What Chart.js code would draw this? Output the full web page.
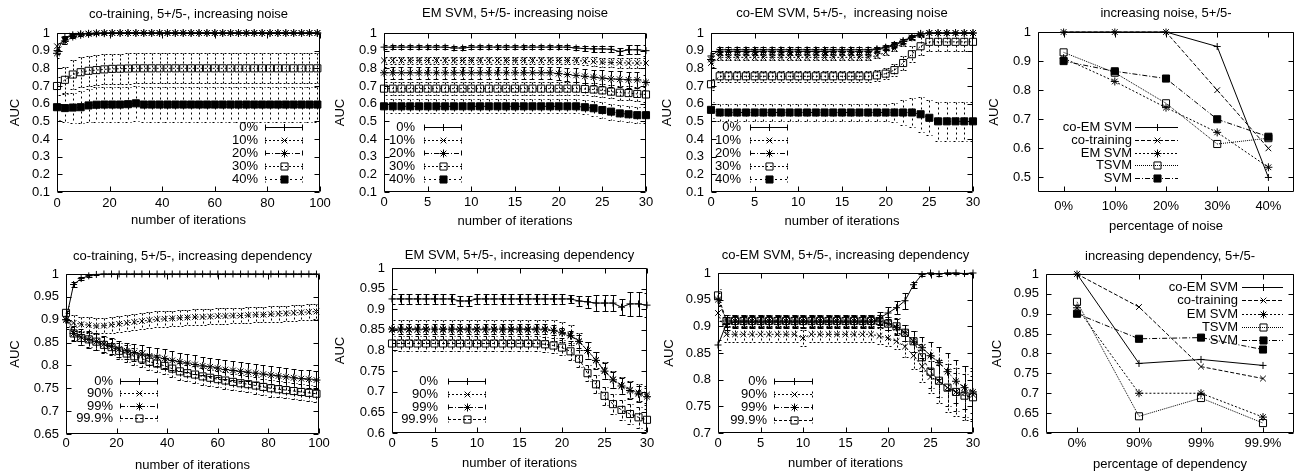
<!DOCTYPE html>
<html>
<head>
<meta charset="utf-8">
<script src="https://cdn.jsdelivr.net/npm/chart.js@4.4.1/dist/chart.umd.min.js"></script>
<style>
    html, body { margin: 0; padding: 0; background: #fff; }
    #page { position: relative; width: 1300px; height: 471px; overflow: hidden; background: #fff; }
    #page canvas { position: absolute; }
</style>
</head>
<body>
<div id="page"></div>
<script>
// ---- x values -------------------------------------------------------------
const ITER_100 = [0, 3, 6, 9, 12, 15, 18, 21, 24, 27, 30, 33, 36, 39, 42, 45, 48, 51, 54, 57,
    60, 63, 66, 69, 72, 75, 78, 81, 84, 87, 90, 93, 96, 99];
const ITER_30 = [0, 1, 2, 3, 4, 5, 6, 7, 8, 9, 10, 11, 12, 13, 14, 15, 16, 17, 18, 19, 20,
    21, 22, 23, 24, 25, 26, 27, 28, 29, 30];

const NOISE_LEVELS = ['0%', '10%', '20%', '30%', '40%'];
const DEP_LEVELS = ['0%', '90%', '99%', '99.9%'];
const METHODS = ['co-EM SVM', 'co-training', 'EM SVM', 'TSVM', 'SVM'];

// ---- co-training, increasing noise (every 3rd iteration) -------------------
const ctNoise0 = [0.9, 0.975, 0.99, 0.996, 0.998, 0.999, 1, 1, 1, 1, 1, 1, 1, 1, 1, 1, 1,
    1, 1, 1, 1, 1, 1, 1, 1, 1, 1, 1, 1, 1, 1, 1, 1, 1];
const ctNoise0Err = [0.02, 0.01, 0.006, 0.004, 0.002, 0.001, 0, 0, 0, 0, 0, 0, 0, 0, 0, 0, 0,
    0, 0, 0, 0, 0, 0, 0, 0, 0, 0, 0, 0, 0, 0, 0, 0, 0];
const ctNoise10 = [0.925, 0.965, 0.985, 0.993, 0.997, 0.999, 1, 1, 1, 1, 1, 1, 1, 1, 1, 1, 1,
    1, 1, 1, 1, 1, 1, 1, 1, 1, 1, 1, 1, 1, 1, 1, 1, 1];
const ctNoise10Err = [0.02, 0.012, 0.008, 0.005, 0.003, 0.002, 0, 0, 0, 0, 0, 0, 0, 0, 0, 0, 0,
    0, 0, 0, 0, 0, 0, 0, 0, 0, 0, 0, 0, 0, 0, 0, 0, 0];
const ctNoise20 = [0.885, 0.955, 0.98, 0.99, 0.995, 0.998, 0.999, 1, 1, 1, 1, 1, 1, 1, 1, 1, 1,
    1, 1, 1, 1, 1, 1, 1, 1, 1, 1, 1, 1, 1, 1, 1, 1, 1];
const ctNoise20Err = [0.025, 0.015, 0.01, 0.006, 0.004, 0.003, 0.002, 0, 0, 0, 0, 0, 0, 0, 0, 0, 0,
    0, 0, 0, 0, 0, 0, 0, 0, 0, 0, 0, 0, 0, 0, 0, 0, 0];
const ctNoise30 = [0.7, 0.735, 0.765, 0.778, 0.786, 0.79, 0.794, 0.797, 0.798, 0.799, 0.8, 0.8,
    0.8, 0.8, 0.8, 0.8, 0.8, 0.8, 0.8, 0.8, 0.8, 0.8, 0.8, 0.8, 0.8, 0.8, 0.8, 0.8, 0.8, 0.8,
    0.8, 0.8, 0.8, 0.8];
const ctNoise30Err = [0.05, 0.075, 0.08, 0.085, 0.085, 0.085, 0.085, 0.085, 0.085, 0.085, 0.085,
    0.085, 0.085, 0.085, 0.085, 0.085, 0.085, 0.085, 0.085, 0.085, 0.085, 0.085, 0.085, 0.085,
    0.085, 0.085, 0.085, 0.085, 0.085, 0.085, 0.085, 0.085, 0.085, 0.085];
const ctNoise40 = [0.58, 0.575, 0.578, 0.58, 0.59, 0.594, 0.595, 0.595, 0.595, 0.597, 0.602,
    0.595, 0.595, 0.595, 0.595, 0.595, 0.595, 0.595, 0.595, 0.595, 0.595, 0.595, 0.595, 0.595,
    0.595, 0.595, 0.595, 0.595, 0.595, 0.595, 0.595, 0.595, 0.595, 0.595];
const ctNoise40Err = [0.07, 0.08, 0.085, 0.09, 0.095, 0.1, 0.1, 0.1, 0.1, 0.1, 0.1, 0.1, 0.1,
    0.1, 0.1, 0.1, 0.1, 0.1, 0.1, 0.1, 0.1, 0.1, 0.1, 0.1, 0.1, 0.1, 0.1, 0.1, 0.1, 0.1, 0.1,
    0.1, 0.1, 0.1];

// ---- EM SVM, increasing noise ----------------------------------------------
const emNoise0 = [0.92, 0.92, 0.92, 0.92, 0.92, 0.92, 0.92, 0.92, 0.915, 0.915, 0.92, 0.92,
    0.92, 0.92, 0.92, 0.92, 0.92, 0.92, 0.92, 0.92, 0.92, 0.92, 0.915, 0.912, 0.91, 0.91, 0.908,
    0.895, 0.905, 0.905, 0.9];
const emNoise0Err = [0.012, 0.012, 0.012, 0.012, 0.012, 0.012, 0.012, 0.012, 0.012, 0.012, 0.012,
    0.012, 0.012, 0.012, 0.012, 0.012, 0.012, 0.012, 0.012, 0.012, 0.012, 0.012, 0.012, 0.013,
    0.015, 0.015, 0.017, 0.02, 0.025, 0.025, 0.03];
const emNoise10 = [0.845, 0.845, 0.845, 0.845, 0.845, 0.845, 0.845, 0.845, 0.845, 0.845, 0.845,
    0.845, 0.845, 0.845, 0.845, 0.845, 0.845, 0.845, 0.845, 0.845, 0.845, 0.845, 0.845, 0.84,
    0.838, 0.835, 0.833, 0.832, 0.83, 0.83, 0.83];
const emNoise10Err = [0.02, 0.02, 0.02, 0.02, 0.02, 0.02, 0.02, 0.02, 0.02, 0.02, 0.02, 0.02,
    0.02, 0.02, 0.02, 0.02, 0.02, 0.02, 0.02, 0.02, 0.02, 0.02, 0.02, 0.022, 0.024, 0.025, 0.027,
    0.028, 0.03, 0.03, 0.03];
const emNoise20 = [0.775, 0.775, 0.775, 0.775, 0.775, 0.775, 0.775, 0.775, 0.775, 0.775, 0.775,
    0.775, 0.775, 0.775, 0.775, 0.775, 0.775, 0.775, 0.775, 0.775, 0.77, 0.765, 0.76, 0.755,
    0.75, 0.745, 0.74, 0.738, 0.735, 0.735, 0.72];
const emNoise20Err = [0.035, 0.035, 0.035, 0.035, 0.035, 0.035, 0.035, 0.035, 0.035, 0.035, 0.035,
    0.035, 0.035, 0.035, 0.035, 0.035, 0.035, 0.035, 0.035, 0.035, 0.036, 0.038, 0.04, 0.04,
    0.042, 0.044, 0.045, 0.045, 0.045, 0.045, 0.045];
const emNoise30 = [0.685, 0.685, 0.685, 0.685, 0.685, 0.685, 0.685, 0.685, 0.685, 0.685, 0.685,
    0.685, 0.685, 0.685, 0.685, 0.685, 0.685, 0.685, 0.685, 0.685, 0.685, 0.685, 0.685, 0.683,
    0.68, 0.675, 0.668, 0.662, 0.66, 0.655, 0.652];
const emNoise30Err = [0.035, 0.035, 0.035, 0.035, 0.035, 0.035, 0.035, 0.035, 0.035, 0.035, 0.035,
    0.035, 0.035, 0.035, 0.035, 0.035, 0.035, 0.035, 0.035, 0.035, 0.035, 0.035, 0.035, 0.035,
    0.036, 0.037, 0.038, 0.04, 0.04, 0.04, 0.04];
const emNoise40 = [0.585, 0.585, 0.585, 0.585, 0.585, 0.585, 0.585, 0.585, 0.585, 0.585, 0.585,
    0.585, 0.585, 0.585, 0.585, 0.585, 0.585, 0.585, 0.585, 0.585, 0.585, 0.585, 0.585, 0.58,
    0.574, 0.564, 0.555, 0.545, 0.54, 0.535, 0.535];
const emNoise40Err = [0.04, 0.04, 0.04, 0.04, 0.04, 0.04, 0.04, 0.04, 0.04, 0.04, 0.04, 0.04,
    0.04, 0.04, 0.04, 0.04, 0.04, 0.04, 0.04, 0.04, 0.04, 0.04, 0.04, 0.04, 0.042, 0.045, 0.045,
    0.045, 0.045, 0.045, 0.045];

// ---- co-EM SVM, increasing noise -------------------------------------------
const coemNoise0 = [0.87, 0.905, 0.905, 0.905, 0.905, 0.905, 0.905, 0.905, 0.905, 0.905, 0.905,
    0.905, 0.905, 0.905, 0.905, 0.905, 0.905, 0.905, 0.905, 0.91, 0.92, 0.935, 0.955, 0.978,
    0.995, 1, 1, 1, 1, 1, 1];
const coemNoise0Err = [0.015, 0.013, 0.013, 0.013, 0.013, 0.013, 0.013, 0.013, 0.013, 0.013,
    0.013, 0.013, 0.013, 0.013, 0.013, 0.013, 0.013, 0.013, 0.013, 0.012, 0.012, 0.012, 0.012,
    0.01, 0.004, 0.002, 0.002, 0.002, 0.002, 0.002, 0.002];
const coemNoise10 = [0.83, 0.862, 0.862, 0.862, 0.862, 0.862, 0.862, 0.862, 0.862, 0.862, 0.862,
    0.862, 0.862, 0.862, 0.862, 0.862, 0.862, 0.862, 0.862, 0.872, 0.89, 0.912, 0.94, 0.97,
    0.99, 1, 1, 1, 1, 1, 1];
const coemNoise10Err = [0.02, 0.015, 0.015, 0.015, 0.015, 0.015, 0.015, 0.015, 0.015, 0.015,
    0.015, 0.015, 0.015, 0.015, 0.015, 0.015, 0.015, 0.015, 0.015, 0.015, 0.015, 0.015, 0.015,
    0.012, 0.008, 0.002, 0.002, 0.002, 0.002, 0.002, 0.002];
const coemNoise20 = [0.85, 0.895, 0.895, 0.895, 0.895, 0.895, 0.895, 0.895, 0.895, 0.895, 0.895,
    0.895, 0.895, 0.895, 0.895, 0.895, 0.895, 0.895, 0.895, 0.905, 0.915, 0.93, 0.952, 0.975,
    0.995, 1, 1, 1, 1, 1, 1];
const coemNoise20Err = [0.02, 0.013, 0.013, 0.013, 0.013, 0.013, 0.013, 0.013, 0.013, 0.013,
    0.013, 0.013, 0.013, 0.013, 0.013, 0.013, 0.013, 0.013, 0.013, 0.013, 0.013, 0.013, 0.012,
    0.01, 0.004, 0.002, 0.002, 0.002, 0.002, 0.002, 0.002];
const coemNoise30 = [0.71, 0.755, 0.755, 0.755, 0.755, 0.755, 0.755, 0.755, 0.755, 0.755, 0.755,
    0.755, 0.755, 0.755, 0.755, 0.755, 0.755, 0.755, 0.755, 0.76, 0.77, 0.79, 0.83, 0.88, 0.925,
    0.95, 0.95, 0.95, 0.95, 0.95, 0.95];
const coemNoise30Err = [0.03, 0.03, 0.03, 0.03, 0.03, 0.03, 0.03, 0.03, 0.03, 0.03, 0.03, 0.03,
    0.03, 0.03, 0.03, 0.03, 0.03, 0.03, 0.03, 0.03, 0.03, 0.035, 0.04, 0.045, 0.05, 0.05, 0.05,
    0.05, 0.05, 0.05, 0.05];
const coemNoise40 = [0.565, 0.55, 0.55, 0.55, 0.55, 0.55, 0.55, 0.55, 0.55, 0.55, 0.55, 0.55,
    0.55, 0.55, 0.55, 0.55, 0.55, 0.55, 0.55, 0.55, 0.55, 0.55, 0.55, 0.55, 0.54, 0.52, 0.5, 0.5,
    0.5, 0.5, 0.5];
const coemNoise40Err = [0.045, 0.05, 0.05, 0.05, 0.05, 0.05, 0.05, 0.05, 0.05, 0.05, 0.05, 0.05,
    0.05, 0.05, 0.05, 0.05, 0.05, 0.05, 0.05, 0.05, 0.05, 0.055, 0.07, 0.08, 0.1, 0.1, 0.11, 0.11,
    0.11, 0.11, 0.11];

// ---- final AUC vs. noise ---------------------------------------------------
const sumNoiseCoem = [1, 1, 1, 0.95, 0.5];
const sumNoiseCoTrain = [1, 1, 1, 0.8, 0.6];
const sumNoiseEm = [0.91, 0.83, 0.74, 0.655, 0.535];
const sumNoiseTsvm = [0.93, 0.86, 0.755, 0.615, 0.635];
const sumNoiseSvm = [0.9, 0.865, 0.84, 0.7, 0.64];

// ---- co-training, increasing dependency (every 3rd iteration) --------------
const ctDep0 = [0.9, 0.977, 0.99, 0.996, 0.999, 1, 1, 1, 1, 1, 1, 1, 1, 1, 1, 1, 1, 1, 1, 1,
    1, 1, 1, 1, 1, 1, 1, 1, 1, 1, 1, 1, 1, 1];
const ctDep0Err = [0.02, 0.006, 0.004, 0.002, 0.001, 0, 0, 0, 0, 0, 0, 0, 0, 0, 0, 0, 0, 0, 0,
    0, 0, 0, 0, 0, 0, 0, 0, 0, 0, 0, 0, 0, 0, 0];
const ctDep90 = [0.9, 0.893, 0.89, 0.888, 0.886, 0.887, 0.889, 0.891, 0.893, 0.895,
    0.897, 0.899, 0.901, 0.902, 0.903, 0.904, 0.905, 0.906, 0.906, 0.907,
    0.908, 0.908, 0.909, 0.909, 0.91, 0.911, 0.911, 0.912, 0.913, 0.914,
    0.915, 0.916, 0.917, 0.918];
const ctDep90Err = [0.015, 0.017, 0.017, 0.017, 0.017, 0.017, 0.017, 0.017, 0.017, 0.017,
    0.017, 0.017, 0.017, 0.017, 0.017, 0.017, 0.017, 0.017, 0.017, 0.017,
    0.017, 0.017, 0.017, 0.017, 0.017, 0.017, 0.017, 0.017, 0.017, 0.017,
    0.017, 0.017, 0.017, 0.017];
const ctDep99 = [0.9, 0.87, 0.862, 0.857, 0.852, 0.847, 0.842, 0.836, 0.832, 0.828,
    0.825, 0.821, 0.818, 0.815, 0.811, 0.808, 0.805, 0.802, 0.799, 0.797,
    0.794, 0.791, 0.789, 0.787, 0.785, 0.783, 0.781, 0.779, 0.777, 0.775,
    0.773, 0.771, 0.77, 0.768];
const ctDep99Err = [0.015, 0.016, 0.017, 0.018, 0.018, 0.018, 0.018, 0.018, 0.018, 0.018,
    0.02, 0.02, 0.02, 0.02, 0.02, 0.02, 0.02, 0.02, 0.02, 0.02,
    0.02, 0.02, 0.02, 0.02, 0.02, 0.02, 0.02, 0.02, 0.02, 0.02,
    0.02, 0.02, 0.02, 0.02];
const ctDep999 = [0.915, 0.87, 0.86, 0.857, 0.852, 0.845, 0.84, 0.832, 0.826, 0.82,
    0.815, 0.808, 0.804, 0.799, 0.793, 0.787, 0.783, 0.78, 0.776, 0.773,
    0.77, 0.767, 0.764, 0.761, 0.759, 0.756, 0.753, 0.75, 0.748, 0.746,
    0.744, 0.742, 0.74, 0.738];
const ctDep999Err = [0.015, 0.015, 0.016, 0.017, 0.018, 0.018, 0.018, 0.018, 0.018, 0.018,
    0.018, 0.018, 0.018, 0.018, 0.018, 0.018, 0.018, 0.018, 0.018, 0.018,
    0.018, 0.018, 0.018, 0.018, 0.018, 0.018, 0.018, 0.018, 0.018, 0.018,
    0.018, 0.018, 0.018, 0.018];

// ---- EM SVM, increasing dependency -----------------------------------------
const emDep0 = [0.925, 0.925, 0.925, 0.925, 0.925, 0.925, 0.925, 0.925, 0.92, 0.92, 0.925,
    0.925, 0.925, 0.925, 0.925, 0.925, 0.925, 0.925, 0.925, 0.925, 0.925, 0.925, 0.92, 0.918,
    0.915, 0.915, 0.915, 0.905, 0.913, 0.913, 0.91];
const emDep0Err = [0.012, 0.012, 0.012, 0.012, 0.012, 0.012, 0.012, 0.012, 0.012, 0.012, 0.012,
    0.012, 0.012, 0.012, 0.012, 0.012, 0.012, 0.012, 0.012, 0.012, 0.012, 0.01, 0.012, 0.015,
    0.02, 0.02, 0.02, 0.02, 0.03, 0.03, 0.03];
const emDep90 = [0.85, 0.85, 0.85, 0.85, 0.85, 0.85, 0.85, 0.85, 0.85, 0.85, 0.85, 0.85, 0.85,
    0.85, 0.85, 0.85, 0.85, 0.85, 0.85, 0.848, 0.845, 0.838, 0.822, 0.8, 0.777, 0.752, 0.73,
    0.715, 0.705, 0.698, 0.693];
const emDep90Err = [0.025, 0.025, 0.025, 0.025, 0.025, 0.025, 0.025, 0.025, 0.025, 0.025, 0.025,
    0.025, 0.025, 0.025, 0.025, 0.025, 0.025, 0.025, 0.025, 0.025, 0.025, 0.025, 0.02, 0.02,
    0.02, 0.02, 0.02, 0.02, 0.02, 0.02, 0.02];
const emDep99 = [0.852, 0.852, 0.852, 0.852, 0.852, 0.852, 0.852, 0.852, 0.852, 0.852, 0.852,
    0.852, 0.852, 0.852, 0.852, 0.852, 0.852, 0.852, 0.852, 0.849, 0.843, 0.836, 0.822, 0.8,
    0.776, 0.75, 0.729, 0.714, 0.703, 0.695, 0.688];
const emDep99Err = [0.012, 0.012, 0.012, 0.012, 0.012, 0.012, 0.012, 0.012, 0.012, 0.012, 0.012,
    0.012, 0.012, 0.012, 0.012, 0.012, 0.012, 0.012, 0.012, 0.012, 0.012, 0.012, 0.015, 0.02,
    0.02, 0.02, 0.02, 0.02, 0.02, 0.02, 0.02];
const emDep999 = [0.817, 0.817, 0.817, 0.817, 0.817, 0.817, 0.817, 0.817, 0.817, 0.817, 0.817,
    0.817, 0.817, 0.817, 0.817, 0.817, 0.817, 0.817, 0.815, 0.812, 0.807, 0.798, 0.78, 0.745,
    0.718, 0.69, 0.67, 0.656, 0.646, 0.638, 0.632];
const emDep999Err = [0.018, 0.018, 0.018, 0.018, 0.018, 0.018, 0.018, 0.018, 0.018, 0.018, 0.018,
    0.018, 0.018, 0.018, 0.018, 0.018, 0.018, 0.018, 0.018, 0.018, 0.018, 0.02, 0.02, 0.02,
    0.022, 0.022, 0.025, 0.025, 0.025, 0.025, 0.025];

// ---- co-EM SVM, increasing dependency --------------------------------------
const coemDep0 = [0.865, 0.905, 0.908, 0.908, 0.908, 0.908, 0.908, 0.908, 0.908, 0.908, 0.908,
    0.908, 0.908, 0.908, 0.908, 0.908, 0.908, 0.908, 0.908, 0.915, 0.925, 0.935, 0.948, 0.978,
    0.997, 1, 0.998, 1, 1, 0.999, 1];
const coemDep0Err = [0.01, 0.012, 0.012, 0.012, 0.012, 0.012, 0.012, 0.012, 0.012, 0.012, 0.012,
    0.012, 0.012, 0.012, 0.012, 0.012, 0.012, 0.012, 0.012, 0.012, 0.012, 0.012, 0.015, 0.006,
    0.003, 0.002, 0.003, 0.001, 0.001, 0.001, 0.001];
const coemDep90 = [0.925, 0.885, 0.885, 0.885, 0.885, 0.885, 0.885, 0.885, 0.885, 0.885, 0.878,
    0.885, 0.885, 0.885, 0.885, 0.885, 0.885, 0.885, 0.885, 0.882, 0.878, 0.872, 0.862, 0.845,
    0.825, 0.805, 0.797, 0.785, 0.777, 0.775, 0.772];
const coemDep90Err = [0.015, 0.015, 0.015, 0.015, 0.015, 0.015, 0.015, 0.015, 0.015, 0.015,
    0.015, 0.015, 0.015, 0.015, 0.015, 0.015, 0.015, 0.015, 0.015, 0.015, 0.015, 0.015, 0.02,
    0.025, 0.03, 0.03, 0.04, 0.045, 0.045, 0.05, 0.05];
const coemDep99 = [0.95, 0.91, 0.91, 0.91, 0.91, 0.91, 0.91, 0.91, 0.91, 0.91, 0.91, 0.91,
    0.91, 0.91, 0.91, 0.91, 0.91, 0.91, 0.91, 0.91, 0.905, 0.898, 0.888, 0.872, 0.86, 0.845,
    0.832, 0.815, 0.797, 0.785, 0.777];
const coemDep99Err = [0.012, 0.012, 0.012, 0.012, 0.012, 0.012, 0.012, 0.012, 0.012, 0.012,
    0.012, 0.012, 0.012, 0.012, 0.012, 0.012, 0.012, 0.012, 0.012, 0.012, 0.012, 0.015, 0.015,
    0.02, 0.02, 0.025, 0.03, 0.035, 0.04, 0.04, 0.04];
const coemDep999 = [0.958, 0.91, 0.91, 0.91, 0.91, 0.91, 0.91, 0.91, 0.91, 0.91, 0.91, 0.91,
    0.91, 0.91, 0.91, 0.91, 0.91, 0.91, 0.91, 0.91, 0.905, 0.9, 0.888, 0.872, 0.842, 0.815,
    0.798, 0.785, 0.777, 0.77, 0.767];
const coemDep999Err = [0.012, 0.012, 0.012, 0.012, 0.012, 0.012, 0.012, 0.012, 0.012, 0.012,
    0.012, 0.012, 0.012, 0.012, 0.012, 0.012, 0.012, 0.012, 0.012, 0.012, 0.012, 0.015, 0.015,
    0.02, 0.025, 0.03, 0.03, 0.035, 0.035, 0.04, 0.04];

// ---- final AUC vs. dependency ----------------------------------------------
const sumDepCoem = [1, 0.775, 0.785, 0.77];
const sumDepCoTrain = [1, 0.917, 0.767, 0.737];
const sumDepEm = [0.915, 0.7, 0.7, 0.64];
const sumDepTsvm = [0.93, 0.642, 0.688, 0.625];
const sumDepSvm = [0.9, 0.837, 0.84, 0.81];

// ---- styles (gnuplot line types 1..5) --------------------------------------
const HOLLOW = 'rgba(0,0,0,0)';
const MARKS = [
    { pointStyle: 'cross', radius: 3.5, fill: HOLLOW },
    { pointStyle: 'crossRot', radius: 4, fill: HOLLOW },
    { pointStyle: 'star', radius: 4, fill: HOLLOW },
    { pointStyle: 'rect', radius: 5, fill: HOLLOW },
    { pointStyle: 'rect', radius: 5, fill: '#000' },
];
const DASH_ITER = [[], [2, 2], [5, 2, 1, 2], [2, 2], [2, 3]];
const DASH_DEP = [[], [2, 2], [5, 2, 1, 2], [3, 2]];
const DASH_SUM = [[], [4, 2], [2, 2], [1, 1], [5, 2, 1, 2]];

const FONT_PX = 13;
const HALF_LINE = FONT_PX * 1.2 / 2;
const FONT_FAMILY = '"Liberation Sans", Arial, sans-serif';

Chart.defaults.font.family = FONT_FAMILY;
Chart.defaults.font.size = FONT_PX;
Chart.defaults.color = '#000';

function series(labels, values, errors, dashes) {
    return labels.map((label, i) => ({ label, values: values[i], errors: errors ? errors[i] : null, mark: MARKS[i], dash: dashes[i] }));
}

const PANELS = [
    {
        title: 'co-training, 5+/5-, increasing noise',
        box: [0, 0, 345, 235], plot: [57, 33, 320, 192],
        titleY: 14, tickY: 203.5, xTitleY: 220, yTitleX: 15,
        x: { min: 0, max: 100, step: 20 }, y: { min: 0.1, max: 1, step: 0.1 },
        xTitle: 'number of iterations', xs: ITER_100,
        series: series(NOISE_LEVELS,
            [ctNoise0, ctNoise10, ctNoise20, ctNoise30, ctNoise40],
            [ctNoise0Err, ctNoise10Err, ctNoise20Err, ctNoise30Err, ctNoise40Err], DASH_ITER),
        key: { right: 258, x0: 265, x1: 303, y0: 127, dy: 13, bars: true },
    },
    {
        title: 'EM SVM, 5+/5- increasing noise',
        box: [325, 0, 345, 235], plot: [59, 33, 321, 192],
        titleY: 13.5, tickY: 202, xTitleY: 221.5, yTitleX: 15,
        x: { min: 0, max: 30, step: 5 }, y: { min: 0.1, max: 1, step: 0.1 },
        xTitle: 'number of iterations', xs: ITER_30,
        series: series(NOISE_LEVELS,
            [emNoise0, emNoise10, emNoise20, emNoise30, emNoise40],
            [emNoise0Err, emNoise10Err, emNoise20Err, emNoise30Err, emNoise40Err], DASH_ITER),
        key: { right: 90, x0: 99, x1: 137, y0: 127, dy: 13, bars: true },
    },
    {
        title: 'co-EM SVM, 5+/5-,  increasing noise',
        box: [650, 0, 345, 235], plot: [61, 33, 323, 192],
        titleY: 13.5, tickY: 202, xTitleY: 221.5, yTitleX: 17,
        x: { min: 0, max: 30, step: 5 }, y: { min: 0.1, max: 1, step: 0.1 },
        xTitle: 'number of iterations', xs: ITER_30,
        series: series(NOISE_LEVELS,
            [coemNoise0, coemNoise10, coemNoise20, coemNoise30, coemNoise40],
            [coemNoise0Err, coemNoise10Err, coemNoise20Err, coemNoise30Err, coemNoise40Err], DASH_ITER),
        key: { right: 91, x0: 100, x1: 138, y0: 127, dy: 13, bars: true },
    },
    {
        title: 'increasing noise, 5+/5-',
        box: [975, 0, 325, 235], plot: [63, 32, 324, 192],
        titleY: 13.5, tickY: 206.5, xTitleY: 226.5, yTitleX: 19,
        y: { min: 0.45, max: 1, step: 0.1 },
        xTitle: 'percentage of noise', categories: NOISE_LEVELS,
        series: series(METHODS,
            [sumNoiseCoem, sumNoiseCoTrain, sumNoiseEm, sumNoiseTsvm, sumNoiseSvm], null, DASH_SUM),
        key: { right: 157, x0: 160, x1: 203, y0: 127, dy: 12.8, bars: false },
    },
    {
        title: 'co-training, 5+/5-, increasing dependency',
        box: [0, 235, 345, 236], plot: [66, 39, 319, 199],
        titleY: 21.5, tickY: 208.5, xTitleY: 230, yTitleX: 15,
        x: { min: 0, max: 100, step: 20 }, y: { min: 0.65, max: 1, step: 0.05 },
        xTitle: 'number of iterations', xs: ITER_100,
        series: series(DEP_LEVELS,
            [ctDep0, ctDep90, ctDep99, ctDep999],
            [ctDep0Err, ctDep90Err, ctDep99Err, ctDep999Err], DASH_DEP),
        key: { right: 113, x0: 120, x1: 158, y0: 146, dy: 12.4, bars: true },
    },
    {
        title: 'EM SVM, 5+/5-, increasing dependency',
        box: [325, 235, 345, 236], plot: [67, 33, 322, 198],
        titleY: 20.5, tickY: 208, xTitleY: 228.5, yTitleX: 15,
        x: { min: 0, max: 30, step: 5 }, y: { min: 0.6, max: 1, step: 0.05 },
        xTitle: 'number of iterations', xs: ITER_30,
        series: series(DEP_LEVELS,
            [emDep0, emDep90, emDep99, emDep999],
            [emDep0Err, emDep90Err, emDep99Err, emDep999Err], DASH_DEP),
        key: { right: 113, x0: 123, x1: 161, y0: 146, dy: 12.8, bars: true },
    },
    {
        title: 'co-EM SVM, 5+/5-, increasing dependency',
        box: [650, 235, 345, 236], plot: [68, 38, 323, 198],
        titleY: 20.5, tickY: 208, xTitleY: 228.5, yTitleX: 19,
        x: { min: 0, max: 30, step: 5 }, y: { min: 0.7, max: 1, step: 0.05 },
        xTitle: 'number of iterations', xs: ITER_30,
        series: series(DEP_LEVELS,
            [coemDep0, coemDep90, coemDep99, coemDep999],
            [coemDep0Err, coemDep90Err, coemDep99Err, coemDep999Err], DASH_DEP),
        key: { right: 117, x0: 124, x1: 163, y0: 146, dy: 13, bars: true },
    },
    {
        title: 'increasing dependency, 5+/5-',
        box: [975, 235, 325, 236], plot: [71, 39, 324, 198],
        titleY: 21.5, tickY: 208, xTitleY: 229, yTitleX: 22.5,
        y: { min: 0.6, max: 1, step: 0.05 },
        xTitle: 'percentage of dependency', categories: DEP_LEVELS,
        series: series(METHODS,
            [sumDepCoem, sumDepCoTrain, sumDepEm, sumDepTsvm, sumDepSvm], null, DASH_SUM),
        key: { right: 263, x0: 267, x1: 308, y0: 52, dy: 13.3, bars: false },
    },
];

// gnuplot look: closed frame with inward mirrored ticks, error bars and an inline key
const gnuplotLook = {
    id: 'gnuplotLook',
    beforeDatasetDraw(chart, args) {
        const ds = chart.data.datasets[args.index];
        if (!ds.errors) return;
        const { ctx, chartArea: a } = chart;
        const yScale = chart.scales.y;
        ctx.save();
        ctx.beginPath();
        ctx.rect(a.left, a.top, a.right - a.left, a.bottom - a.top);
        ctx.clip();
        ctx.strokeStyle = '#000';
        ctx.lineWidth = 1;
        ctx.setLineDash(ds.borderDash);
        ctx.beginPath();
        args.meta.data.forEach((pt, i) => {
            const e = ds.errors[i];
            if (!e) return;
            const v = ds.data[i].y;
            const hi = Math.round(yScale.getPixelForValue(v + e)) + 0.5;
            const lo = Math.round(yScale.getPixelForValue(v - e)) + 0.5;
            const x = Math.round(pt.x) + 0.5;
            ctx.moveTo(x, hi); ctx.lineTo(x, lo);
            ctx.moveTo(x - 3, hi); ctx.lineTo(x + 3, hi);
            ctx.moveTo(x - 3, lo); ctx.lineTo(x + 3, lo);
        });
        ctx.stroke();
        ctx.restore();
    },
    afterDraw(chart, args, opts) {
        const { ctx, chartArea: a, scales: { x, y } } = chart;
        const l = Math.round(a.left) + 0.5, r = Math.round(a.right) - 0.5;
        const t = Math.round(a.top) + 0.5, b = Math.round(a.bottom) - 0.5;
        ctx.save();
        ctx.strokeStyle = '#000';
        ctx.lineWidth = 1;
        ctx.setLineDash([]);
        ctx.beginPath();
        ctx.rect(l, t, r - l, b - t);
        x.ticks.forEach((tk, i) => {
            const px = Math.round(x.getPixelForTick(i)) + 0.5;
            ctx.moveTo(px, b); ctx.lineTo(px, b - 5);
            ctx.moveTo(px, t); ctx.lineTo(px, t + 5);
        });
        y.ticks.forEach((tk, i) => {
            const py = Math.round(y.getPixelForTick(i)) + 0.5;
            ctx.moveTo(l, py); ctx.lineTo(l + 5, py);
            ctx.moveTo(r, py); ctx.lineTo(r - 5, py);
        });
        ctx.stroke();

        // key: label right-aligned, then a sample line with the marker in its middle
        const key = opts.key;
        if (key) {
            ctx.font = FONT_PX + 'px ' + FONT_FAMILY;
            ctx.textAlign = 'right';
            ctx.textBaseline = 'middle';
            chart.data.datasets.forEach((ds, i) => {
                const yy = Math.round(key.y0 + i * key.dy) + 0.5;
                ctx.fillStyle = '#000';
                ctx.fillText(ds.label, key.right, yy);
                ctx.setLineDash(ds.borderDash);
                ctx.beginPath();
                ctx.moveTo(key.x0, yy); ctx.lineTo(key.x1, yy);
                if (key.bars) {
                    ctx.moveTo(key.x0 + 0.5, yy - 3); ctx.lineTo(key.x0 + 0.5, yy + 3);
                    ctx.moveTo(key.x1 - 0.5, yy - 3); ctx.lineTo(key.x1 - 0.5, yy + 3);
                }
                ctx.stroke();
                ctx.setLineDash([]);
                ctx.fillStyle = ds.pointBackgroundColor;
                Chart.helpers.drawPoint(ctx, {
                    pointStyle: ds.pointStyle, radius: ds.pointRadius, rotation: 0, borderWidth: 1,
                }, Math.round((key.x0 + key.x1) / 2) + 0.5, yy);
            });
        }
        ctx.restore();
    },
};

const page = document.getElementById('page');
const fmt = v => String(+Number(v).toFixed(3));

PANELS.forEach(p => {
    const [bx, by, bw, bh] = p.box;
    const [L, T, R, B] = p.plot;
    const cv = document.createElement('canvas');
    cv.width = bw;
    cv.height = bh;
    cv.style.left = bx + 'px';
    cv.style.top = by + 'px';
    page.appendChild(cv);

    const n = p.series.length;
    const datasets = p.series.map((s, i) => ({
        label: s.label,
        data: p.xs ? p.xs.map((xv, j) => ({ x: xv, y: s.values[j] })) : s.values,
        errors: s.errors,
        borderColor: '#000',
        borderWidth: 1,
        borderDash: s.dash,
        pointStyle: s.mark.pointStyle,
        pointRadius: s.mark.radius,
        pointBorderColor: '#000',
        pointBackgroundColor: s.mark.fill,
        pointBorderWidth: 1,
        tension: 0,
        fill: false,
        clip: false,
        order: n - i, // later series on top, as gnuplot draws them
    }));

    new Chart(cv, {
        type: 'line',
        data: p.categories ? { labels: p.categories, datasets } : { datasets },
        options: {
            animation: false,
            responsive: false,
            devicePixelRatio: 1,
            events: [],
            layout: { padding: { left: 0, top: 0, right: bw - R, bottom: 0 } },
            plugins: {
                legend: { display: false },
                tooltip: { enabled: false },
                title: {
                    display: true,
                    text: p.title,
                    fullSize: false,
                    font: { size: FONT_PX, weight: 'normal' },
                    padding: { top: p.titleY - HALF_LINE, bottom: T - p.titleY - HALF_LINE },
                },
                gnuplotLook: { key: p.key },
            },
            scales: {
                x: {
                    type: p.categories ? 'category' : 'linear',
                    offset: !!p.categories,
                    min: p.x ? p.x.min : undefined,
                    max: p.x ? p.x.max : undefined,
                    grid: { display: false, drawTicks: false },
                    border: { display: false },
                    ticks: {
                        stepSize: p.x ? p.x.step : undefined,
                        padding: p.tickY - B - HALF_LINE,
                        maxRotation: 0,
                        autoSkip: false,
                    },
                    title: {
                        display: true,
                        text: p.xTitle,
                        padding: { top: 0, bottom: bh - p.xTitleY - HALF_LINE },
                    },
                    afterFit: s => { s.height = bh - B; },
                },
                y: {
                    min: p.y.min,
                    max: p.y.max,
                    grid: { display: false, drawTicks: false },
                    border: { display: false },
                    ticks: {
                        stepSize: p.y.step,
                        padding: 7,
                        includeBounds: false,
                        autoSkip: false,
                        callback: fmt,
                    },
                    title: {
                        display: true,
                        text: 'AUC',
                        padding: { top: p.yTitleX - HALF_LINE, bottom: 0 },
                    },
                    afterFit: s => { s.width = L; },
                },
            },
        },
        plugins: [gnuplotLook],
    });
});
</script>
</body>
</html>
